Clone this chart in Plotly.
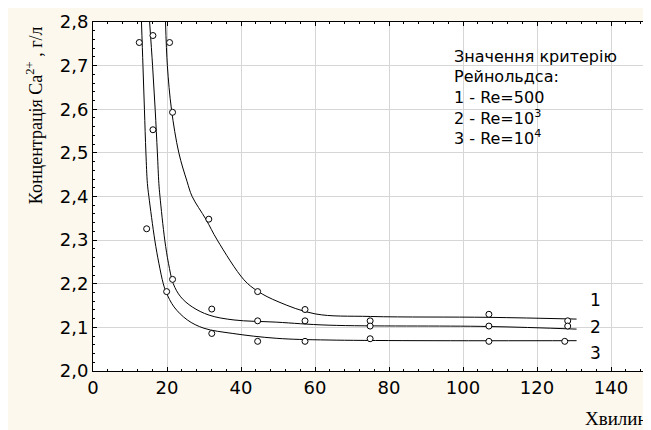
import plotly.graph_objects as go

# ---- measured points (minutes, concentration g/l) ----
s1_x = [20.7, 21.5, 31.3, 44.5, 57.3, 74.9, 107.0, 128.3]
s1_y = [2.753, 2.593, 2.348, 2.182, 2.141, 2.115, 2.130, 2.115]
s2_x = [16.2, 16.2, 21.5, 32.1, 44.5, 57.3, 74.9, 107.0, 128.3]
s2_y = [2.769, 2.553, 2.210, 2.142, 2.115, 2.115, 2.103, 2.103, 2.103]
s3_x = [12.5, 14.5, 19.9, 32.1, 44.5, 57.3, 74.9, 107.0, 127.5]
s3_y = [2.753, 2.326, 2.182, 2.086, 2.068, 2.068, 2.074, 2.068, 2.068]

# ---- fitted curves ----
c1_x = [19.6, 20.1, 21.2, 23.2, 25.4, 26.8, 30.5, 33.6, 40.8, 44.5, 50.0, 60.0, 75.0, 107.0, 130.7]
c1_y = [2.80, 2.70, 2.60, 2.50, 2.435, 2.40, 2.348, 2.30, 2.209, 2.183, 2.159, 2.131, 2.125, 2.123, 2.119]
c2_x = [15.3, 16.1, 16.8, 17.4, 17.8, 18.1, 19.4, 20.4, 21.7, 23.7, 26.8, 31.4, 38.1, 49.5, 63.8, 107.0, 130.7]
c2_y = [2.80, 2.70, 2.60, 2.50, 2.43, 2.40, 2.30, 2.247, 2.20, 2.170, 2.147, 2.128, 2.117, 2.112, 2.105, 2.102, 2.096]
c3_x = [13.1, 13.5, 13.9, 14.3, 14.7, 15.1, 16.7, 17.8, 19.0, 19.8, 21.9, 25.5, 30.0, 37.8, 49.5, 63.8, 130.7]
c3_y = [2.80, 2.70, 2.60, 2.50, 2.43, 2.40, 2.30, 2.247, 2.20, 2.18, 2.147, 2.117, 2.098, 2.086, 2.075, 2.071, 2.0695]

curve_labels = ["1", "2", "3"]
curve_label_x = [135.7, 135.7, 135.7]
curve_label_y = [2.163, 2.101, 2.041]

legend_lines = ["Значення критерію", "Рейнольдса:", "1 - Re=500",
                "2 - Re=10<sup>3</sup>", "3 - Re=10<sup>4</sup>"]
legend_x = 97.0
legend_y = [2.720, 2.674, 2.628, 2.580, 2.535]

x_ticks = [0, 20, 40, 60, 80, 100, 120, 140]
y_ticks = [2.0, 2.1, 2.2, 2.3, 2.4, 2.5, 2.6, 2.7, 2.8]

fig = go.Figure()
for cx, cy in [(c1_x, c1_y), (c2_x, c2_y), (c3_x, c3_y)]:
    fig.add_trace(go.Scatter(x=cx, y=cy, mode="lines",
                             line=dict(color="black", width=1, shape="spline", smoothing=1.0),
                             hoverinfo="skip", showlegend=False))
for px, py in [(s1_x, s1_y), (s2_x, s2_y), (s3_x, s3_y)]:
    fig.add_trace(go.Scatter(x=px, y=py, mode="markers",
                             marker=dict(symbol="circle", size=6, color="white",
                                         line=dict(color="black", width=1)),
                             cliponaxis=False, showlegend=False))

ann = []
for t, x, y in zip(curve_labels, curve_label_x, curve_label_y):
    ann.append(dict(x=x, y=y, xref="x", yref="y", text=t, showarrow=False,
                    xanchor="center", yanchor="middle",
                    font=dict(family="DejaVu Sans", size=17, color="black")))
for t, y in zip(legend_lines, legend_y):
    ann.append(dict(x=legend_x, y=y, xref="x", yref="y", text=t, showarrow=False,
                    xanchor="left", yanchor="middle",
                    font=dict(family="DejaVu Sans", size=16, color="black")))
ann.append(dict(x=-0.106, y=0.7335, xref="paper", yref="paper",
                text="Концентрація Ca<sup>2+</sup> , г/л", textangle=-90,
                showarrow=False, xanchor="center", yanchor="middle",
                font=dict(family="Liberation Serif", size=18, color="black")))
ann.append(dict(x=1.004, y=-0.135, xref="paper", yref="paper", text="Хвилин",
                showarrow=False, xanchor="right", yanchor="middle",
                font=dict(family="Liberation Serif", size=19, color="black")))

axis_common = dict(showline=True, linecolor="black", linewidth=1, mirror="ticks",
                   ticks="inside", ticklen=4, tickcolor="black",
                   showgrid=True, gridcolor="#d6d6d6", gridwidth=1, zeroline=False,
                   tickfont=dict(family="DejaVu Sans", size=18, color="black"))

# page body has an 8px margin, so the figure is 8px smaller and margins shifted
fig.update_layout(
    width=643, height=422,
    margin=dict(l=85, r=3, t=14, b=59),
    paper_bgcolor="#FDF8ED", plot_bgcolor="white",
    separators=", ",
    annotations=ann,
    xaxis=dict(range=[0, 150], tickvals=x_ticks, ticktext=[str(v) for v in x_ticks],
               minor=dict(dtick=4, tick0=0, ticks="inside", ticklen=2, tickcolor="black", showgrid=False),
               **axis_common),
    yaxis=dict(range=[2.0, 2.8], tickvals=y_ticks,
               ticktext=[f"{v:.1f}".replace(".", ",") for v in y_ticks],
               minor=dict(dtick=0.02, tick0=2.0, ticks="inside", ticklen=2, tickcolor="black", showgrid=False),
               **axis_common),
)
fig.write_html("out.html")
